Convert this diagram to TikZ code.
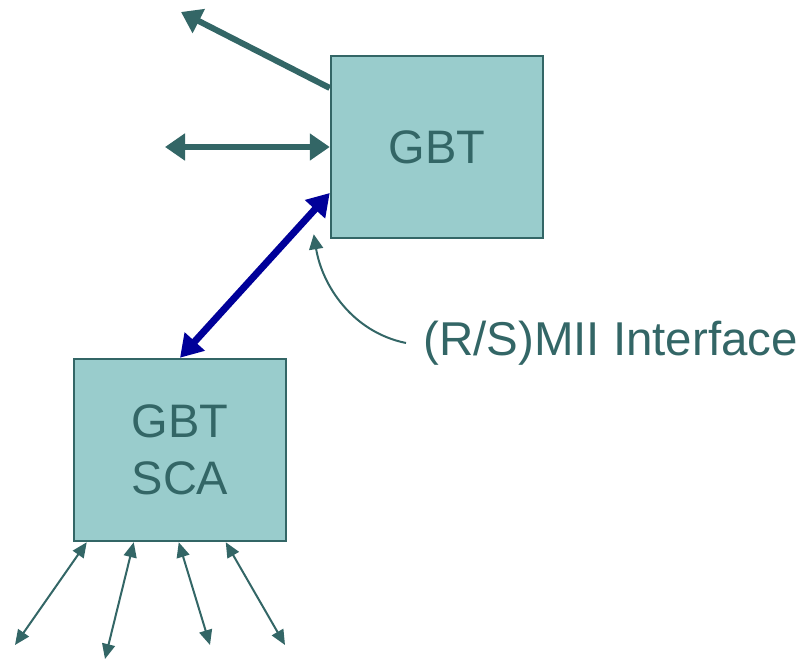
\documentclass[tikz,border=0pt]{standalone}
\usepackage{fontspec}
\setmainfont{Liberation Sans}
\usetikzlibrary{arrows.meta}
\definecolor{boxfill}{HTML}{99CCCC}
\definecolor{teal}{HTML}{336666}
\definecolor{navy}{HTML}{000099}
\tikzset{
  block/.style={draw=teal, line width=2.5pt, fill=boxfill, text=teal,
    minimum width=212pt, minimum height=182pt, inner sep=0pt,
    font=\fontsize{47}{57}\selectfont, align=center},
  bigarrow/.style={draw=teal, line width=6pt,
    -{Triangle[length=20pt,width=26pt]}},
  bigdouble/.style={draw=teal, line width=6pt,
    {Triangle[length=20pt,width=26pt]}-{Triangle[length=20pt,width=26pt]}},
  busarrow/.style={draw=navy, line width=7pt,
    {Triangle[length=22pt,width=26pt]}-{Triangle[length=22pt,width=26pt]}},
  thinarrow/.style={draw=teal, line width=2pt,
    {Triangle[length=15pt,width=13pt]}-{Triangle[length=15pt,width=13pt]}},
  callout/.style={draw=teal, line width=2pt,
    -{Triangle[length=15pt,width=14pt]}},
}
\begin{document}
\begin{tikzpicture}[x=1pt,y=-1pt]
\useasboundingbox (0,0) rectangle (803,660);

% boxes
\node[block] (gbt) at (437,147) {GBT};
\node[block] (sca) at (180,450) {GBT\\SCA};

% label
\node[anchor=base west, inner sep=0pt, text=teal,
  font=\fontsize{47.5}{57}\selectfont] (lbl) at (423,355) {(R/S)MII Interface};

% free ends
\coordinate (up) at (181,12);
\coordinate (left) at (165,147);
\coordinate (b1) at (15,645);
\coordinate (b2) at (105,659);
\coordinate (b3) at (210,645);
\coordinate (b4) at (285,645);
\coordinate (cstart) at (406,343);

% links on the GBT side
\draw[bigarrow] ([shift={(0,-59)}]gbt.west) -- (up);
\draw[bigdouble] (left) -- (gbt.west);
\draw[busarrow] (sca.north) -- ([shift={(0,46)}]gbt.west);

% callout to the interface
\draw[callout] (cstart) .. controls (352,332) and (322,285) .. ([shift={(-16,-5)}]gbt.south west);

% SCA ports
\draw[thinarrow] ([shift={(14,0)}]sca.south west) -- (b1);
\draw[thinarrow] ([shift={(61,0)}]sca.south west) -- (b2);
\draw[thinarrow] ([shift={(106,0)}]sca.south west) -- (b3);
\draw[thinarrow] ([shift={(153,0)}]sca.south west) -- (b4);
\end{tikzpicture}
\end{document}
